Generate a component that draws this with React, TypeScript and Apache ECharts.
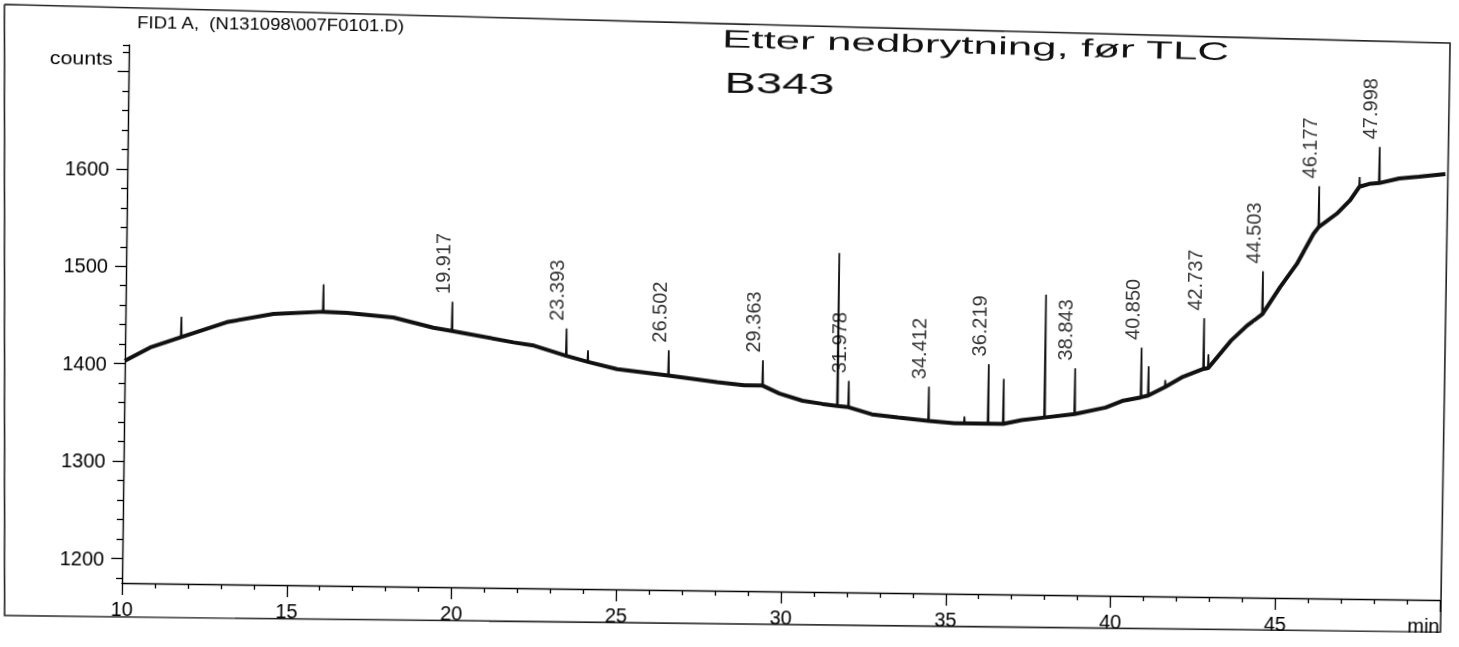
import React, { useEffect, useRef } from 'react';
import * as echarts from 'echarts';

// ---- data ----
// baseline (drift) points, minutes / counts
const baseTimes = [10.0, 10.76, 13.08, 14.49, 16.72, 18.13, 19.35, 21.79, 22.41, 24.94, 27.98, 28.8, 29.88, 30.58, 31.19, 32.69, 33.49, 35.2, 37.24, 39.78, 40.28, 42.08, 43.55, 44.04, 45.03, 45.53, 46.02, 46.72, 47.12, 47.69, 48.6, 49.2, 50.0];
const baseValues = [1403, 1417, 1444, 1453, 1455, 1451, 1441, 1427, 1424, 1401, 1389, 1386, 1378, 1371, 1368, 1358, 1355, 1350, 1354, 1368, 1375, 1400, 1438, 1454, 1494, 1518, 1549, 1570, 1584, 1601, 1607, 1609, 1612];

// spikes: retention time, baseline under the spike, apex
const spikeTimes = [11.7, 16.0, 19.917, 23.393, 24.05, 26.502, 29.363, 31.64, 31.978, 34.412, 35.5, 36.219, 36.68, 37.93, 38.843, 40.85, 41.07, 41.58, 42.737, 42.88, 44.503, 46.177, 47.4, 47.998];
const spikeBases = [1428, 1456, 1438, 1414, 1408, 1395, 1386, 1366, 1365, 1352, 1350, 1350, 1350, 1357, 1361, 1379, 1381, 1390, 1409, 1410, 1466, 1556, 1598, 1602];
const spikeApexes = [1449, 1484, 1468, 1442, 1420, 1421, 1412, 1523, 1392, 1387, 1357, 1411, 1396, 1483, 1408, 1430, 1411, 1397, 1461, 1424, 1510, 1598, 1608, 1639];
const spikeLabels = ['', '', '19.917', '23.393', '', '26.502', '29.363', '', '31.978', '34.412', '', '36.219', '', '', '38.843', '40.850', '', '', '42.737', '', '44.503', '46.177', '', '47.998'];

// axes
const xMin = 10;
const xMax = 50;
const xStep = 5;
const yMin = 1175;
const yMax = 1727;
const yMajorTicks = [1200, 1300, 1400, 1500, 1600, 1700];
const yMinorTicks = [1180, 1220, 1240, 1260, 1280, 1320, 1340, 1360, 1380, 1420, 1440, 1460, 1480, 1520, 1540, 1560, 1580, 1620, 1640, 1660, 1680, 1720, 1727];
const yLabelValues = [1200, 1300, 1400, 1500, 1600];

const titleText = 'FID1 A,  (N131098\\007F0101.D)';
const unitText = 'counts';
const noteLine1 = 'Etter nedbrytning, før TLC';
const noteLine2 = 'B343';

const FONT = '"Liberation Sans", Arial, sans-serif';
const PAD = 20; // extra room around the (slightly rotated) scanned page

function fitScale(text: string, size: number, target: number, weight = 'normal') {
  const c = document.createElement('canvas').getContext('2d');
  if (!c) return 1;
  c.font = `${weight} ${size}px "Liberation Sans", Arial, sans-serif`;
  const w = c.measureText(text).width;
  return w > 0 ? target / w : 1;
}

export default function App() {
  const ref = useRef<HTMLDivElement>(null);
  useEffect(() => {
    if (!ref.current) return;
    const chart = echarts.init(ref.current, null, { renderer: 'svg' });

    const basePts: [number, number][] = [];
    baseTimes.forEach((t, i) => basePts.push([t, baseValues[i]]));
    spikeTimes.forEach((t, i) => basePts.push([t, spikeBases[i]]));
    basePts.sort((a, b) => a[0] - b[0]);

    const spikePts: any[] = [];
    spikeTimes.forEach((t, i) => {
      spikePts.push([t - 0.015, spikeBases[i]]);
      spikePts.push([t, spikeApexes[i]]);
      spikePts.push([t + 0.015, spikeBases[i]]);
      spikePts.push([t + 0.02, null]);
    });

    const labelPts: any[] = [];
    spikeTimes.forEach((t, i) => {
      if (spikeLabels[i]) labelPts.push({ value: [t, spikeApexes[i]], name: spikeLabels[i] });
    });

    const axisColor = '#000';
    const P = (x: number, y: number) => [x + PAD, y + PAD];

    chart.setOption({
      animation: false,
      backgroundColor: 'transparent',
      grid: { left: 122 + PAD, right: 19 + PAD, top: 45 + PAD, bottom: 64 + PAD, containLabel: false },
      xAxis: {
        type: 'value',
        min: xMin,
        max: xMax,
        interval: xStep,
        axisLine: { show: true, lineStyle: { color: axisColor, width: 1.4 } },
        axisTick: { show: true, length: 12, lineStyle: { color: axisColor, width: 1.3 } },
        minorTick: { show: true, splitNumber: 5, length: 5, lineStyle: { color: axisColor, width: 1.3 } },
        splitLine: { show: false },
        axisLabel: {
          margin: 16,
          fontSize: 20,
          fontFamily: FONT,
          color: '#000',
          alignMaxLabel: 'right',
          formatter: (v: number) => (v === xMax ? 'min' : String(v)),
        },
      },
      yAxis: [
        {
          type: 'value',
          min: yMin,
          max: yMax,
          axisLine: { show: true, lineStyle: { color: axisColor, width: 1.4 } },
          axisTick: { show: true, length: 11, customValues: yMajorTicks, lineStyle: { color: axisColor, width: 1.3 } },
          splitLine: { show: false },
          axisLabel: {
            show: true,
            customValues: yLabelValues,
            margin: 18,
            fontSize: 20,
            fontFamily: FONT,
            color: '#000',
            formatter: (v: number) => String(v),
          },
        },
        {
          type: 'value',
          min: yMin,
          max: yMax,
          position: 'left',
          offset: 0,
          axisLine: { show: false },
          axisTick: { show: true, length: 6, customValues: yMinorTicks, lineStyle: { color: axisColor, width: 1.3 } },
          splitLine: { show: false },
          axisLabel: { show: false },
        },
      ],
      series: [
        {
          type: 'line',
          name: 'baseline',
          data: basePts,
          showSymbol: false,
          symbol: 'none',
          clip: false,
          lineStyle: { color: '#111', width: 4 },
          z: 3,
        },
        {
          type: 'line',
          name: 'spikes',
          data: spikePts,
          showSymbol: false,
          symbol: 'none',
          connectNulls: false,
          clip: false,
          lineStyle: { color: '#111', width: 1.7 },
          z: 4,
        },
        {
          type: 'scatter',
          name: 'labels',
          data: labelPts,
          symbolSize: 1,
          itemStyle: { color: 'rgba(0,0,0,0)' },
          label: {
            show: true,
            position: 'top',
            distance: 7,
            rotate: 90,
            align: 'left',
            verticalAlign: 'bottom',
            fontSize: 20,
            fontFamily: FONT,
            color: '#000',
            formatter: (p: any) => p.name,
          },
          z: 5,
        },
      ],
      graphic: [
        {
          type: 'polyline',
          shape: { points: [P(-3, 6), P(1443, 26), P(1441, 615), P(5, 617), P(-3, 6)] },
          style: { stroke: '#222', lineWidth: 1.6, fill: null },
          silent: true,
        },
        {
          type: 'text',
          x: 130 + PAD,
          y: 22 + PAD,
          scaleX: fitScale(titleText, 17, 268),
          style: { text: titleText, font: `17px ${FONT}`, fill: '#000', textAlign: 'left', textVerticalAlign: 'middle' },
        },
        {
          type: 'text',
          x: 43 + PAD,
          y: 58 + PAD,
          scaleX: fitScale(unitText, 19, 63),
          style: { text: unitText, font: `19px ${FONT}`, fill: '#000', textAlign: 'left', textVerticalAlign: 'middle' },
        },
        {
          type: 'text',
          x: 715 + PAD,
          y: 31 + PAD,
          rotation: -0.013,
          scaleX: fitScale(noteLine1, 25, 508),
          style: { text: noteLine1, font: `25px ${FONT}`, fill: '#111', textAlign: 'left', textVerticalAlign: 'middle' },
        },
        {
          type: 'text',
          x: 718 + PAD,
          y: 74 + PAD,
          scaleX: fitScale(noteLine2, 30, 110),
          style: { text: noteLine2, font: `30px ${FONT}`, fill: '#111', textAlign: 'left', textVerticalAlign: 'middle' },
        },
      ],
    });
    return () => chart.dispose();
  }, []);

  return (
    <div
      ref={ref}
      style={{
        position: 'fixed',
        left: -PAD,
        top: -PAD,
        width: 1459 + 2 * PAD,
        height: 647 + 2 * PAD,
        transform: 'rotate(0.74deg)',
        transformOrigin: `${122 + PAD}px ${583 + PAD}px`,
      }}
    />
  );
}
